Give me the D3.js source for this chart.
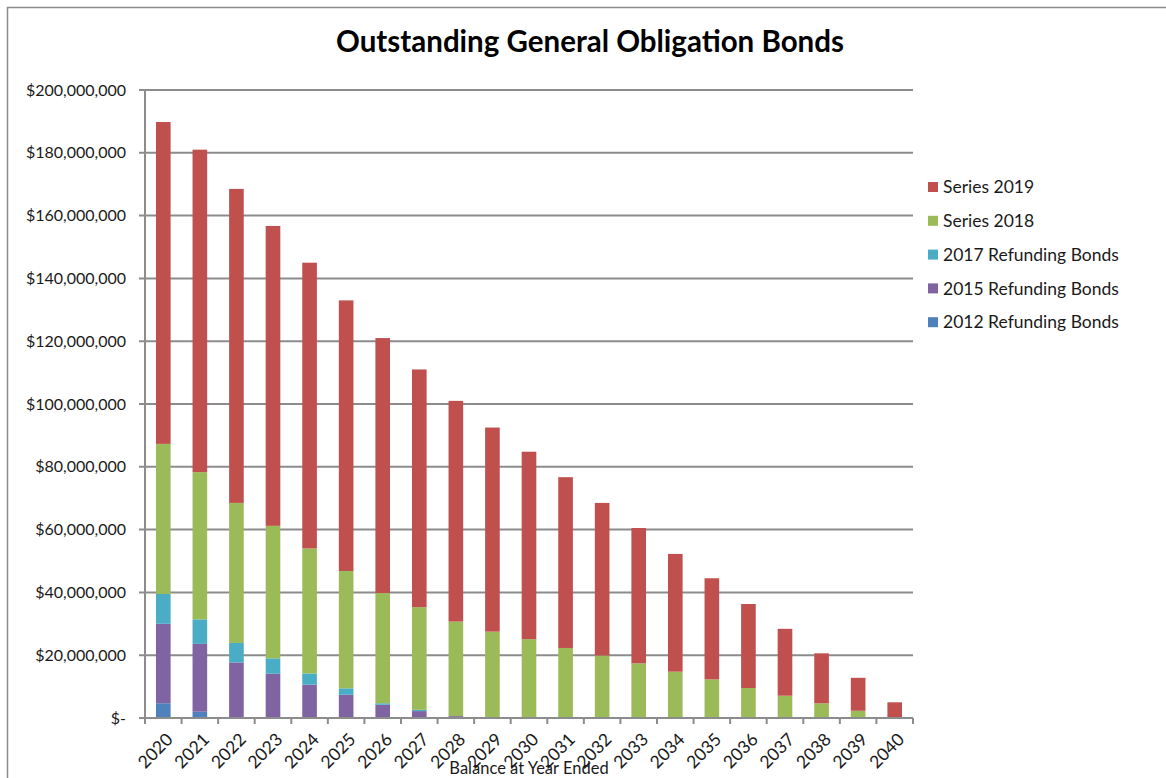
<!DOCTYPE html>
<meta charset="utf-8">
<style>
body { margin: 0; background: #fff; }
svg { font-family: Lato, "Open Sans", sans-serif; }
</style>
<svg width="1166" height="778"></svg>
<script src="https://d3js.org/d3.v7.min.js"></script>
<script>

// years and balances, in millions of dollars
var years = ["2020","2021","2022","2023","2024","2025","2026","2027","2028","2029","2030",
             "2031","2032","2033","2034","2035","2036","2037","2038","2039","2040"];

var seriesNames = ["2012 Refunding Bonds", "2015 Refunding Bonds", "2017 Refunding Bonds", "Series 2018", "Series 2019"];

var ref2012 = [4.7, 2.0, 0, 0, 0, 0, 0, 0, 0, 0, 0, 0, 0, 0, 0, 0, 0, 0, 0, 0, 0];
var ref2015 = [25.3, 21.6, 17.7, 14.1, 10.6, 7.4, 4.2, 2.2, 0.6, 0, 0, 0, 0, 0, 0, 0, 0, 0, 0, 0, 0];
var ref2017 = [9.5, 7.8, 6.2, 4.9, 3.6, 2.05, 0.5, 0.4, 0, 0, 0, 0, 0, 0, 0, 0, 0, 0, 0, 0, 0];
var ser2018 = [47.8, 46.9, 44.6, 42.2, 39.8, 37.35, 35.1, 32.7, 30.1, 27.5, 25.1, 22.3, 19.9, 17.4, 14.75, 12.3, 9.55, 7.1, 4.7, 2.3, 0];
var ser2019 = [102.5, 102.7, 100, 95.5, 91, 86.2, 81.2, 75.7, 70.3, 65, 59.7, 54.4, 48.6, 43.1, 37.5, 32.2, 26.75, 21.3, 15.9, 10.5, 5.0];

var yTicks = [0, 20, 40, 60, 80, 100, 120, 140, 160, 180, 200];

var colors = ["#4F81BD", "#8064A2", "#4BACC6", "#9BBB59", "#C0504D"];

var rows = years.map(function(y, i) {
  return {year: y, 0: ref2012[i], 1: ref2015[i], 2: ref2017[i], 3: ser2018[i], 4: ser2019[i]};
});
var stacked = d3.stack().keys([0, 1, 2, 3, 4])(rows);

var svg = d3.select("svg");

// outer chart frame
svg.append("rect")
    .attr("x", 7.5).attr("y", 7.5)
    .attr("width", 1180).attr("height", 790)
    .attr("fill", "none")
    .attr("stroke", "#8c8c8c")
    .attr("stroke-width", 1.5);

var pLeft = 145, pRight = 913, pTop = 90, pBottom = 718;

var x = d3.scaleBand()
    .domain(years)
    .range([pLeft, pRight])
    .paddingInner(0.6)
    .paddingOuter(0.3);

var y = d3.scaleLinear()
    .domain([0, 200])
    .range([pBottom, pTop]);

// gridlines
svg.append("g")
  .selectAll("line")
  .data(yTicks.slice(1))
  .join("line")
    .attr("x1", pLeft - 6).attr("x2", pRight)
    .attr("y1", function(d) { return y(d); })
    .attr("y2", function(d) { return y(d); })
    .attr("stroke", "#8c8c8c")
    .attr("stroke-width", 2);

// y labels
svg.append("g")
  .selectAll("text")
  .data(yTicks)
  .join("text")
    .attr("x", 126)
    .attr("y", function(d) { return y(d); })
    .attr("dy", "0.35em")
    .attr("text-anchor", "end")
    .attr("font-size", 16)
    .attr("fill", "#1a1a1a")
    .text(function(d) { return d === 0 ? "$-" : "$" + d3.format(",")(d * 1000000); });

// bars
svg.append("g")
  .selectAll("g")
  .data(stacked)
  .join("g")
    .attr("fill", function(d, i) { return colors[i]; })
  .selectAll("rect")
  .data(function(d) { return d; })
  .join("rect")
    .attr("x", function(d) { return x(d.data.year); })
    .attr("y", function(d) { return y(d[1]); })
    .attr("width", x.bandwidth())
    .attr("height", function(d) { return y(d[0]) - y(d[1]); });

// axes lines
svg.append("line")
    .attr("x1", pLeft).attr("x2", pLeft)
    .attr("y1", pTop).attr("y2", pBottom)
    .attr("stroke", "#8c8c8c").attr("stroke-width", 2);
svg.append("line")
    .attr("x1", pLeft - 6).attr("x2", pRight)
    .attr("y1", pBottom).attr("y2", pBottom)
    .attr("stroke", "#8c8c8c").attr("stroke-width", 2);

// x ticks between categories
var step = (pRight - pLeft) / years.length;
svg.append("g")
  .selectAll("line")
  .data(d3.range(years.length + 1))
  .join("line")
    .attr("x1", function(i) { return pLeft + i * step; })
    .attr("x2", function(i) { return pLeft + i * step; })
    .attr("y1", pBottom).attr("y2", pBottom + 6)
    .attr("stroke", "#8c8c8c").attr("stroke-width", 2);

// x labels, rotated
svg.append("g")
  .selectAll("text")
  .data(years)
  .join("text")
    .attr("transform", function(d) {
      return "translate(" + (x(d) + x.bandwidth() / 2 + 2) + "," + (pBottom + 14) + ") rotate(-45)";
    })
    .attr("text-anchor", "end")
    .attr("dy", "0.7em")
    .attr("font-size", 17.5)
    .attr("fill", "#1a1a1a")
    .text(function(d) { return d; });

svg.append("text")
    .attr("x", 529).attr("y", 774)
    .attr("text-anchor", "middle")
    .attr("font-size", 16.5)
    .attr("fill", "#1a1a1a")
    .text("Balance at Year Ended");

// title
svg.append("text")
    .attr("x", 590).attr("y", 52)
    .attr("text-anchor", "middle")
    .attr("font-size", 29.5)
    .attr("font-weight", "bold")
    .attr("fill", "#000")
    .text("Outstanding General Obligation Bonds");

// legend, top entry is Series 2019
var legend = svg.append("g")
  .selectAll("g")
  .data(d3.range(5).reverse())
  .join("g")
    .attr("transform", function(d, i) { return "translate(928," + (187 + i * 33.8) + ")"; });

legend.append("rect")
    .attr("x", 0).attr("y", -5)
    .attr("width", 10).attr("height", 10)
    .attr("fill", function(d) { return colors[d]; });

legend.append("text")
    .attr("x", 15)
    .attr("dy", "0.35em")
    .attr("font-size", 17.5)
    .attr("fill", "#1a1a1a")
    .text(function(d) { return seriesNames[d]; });

</script>
